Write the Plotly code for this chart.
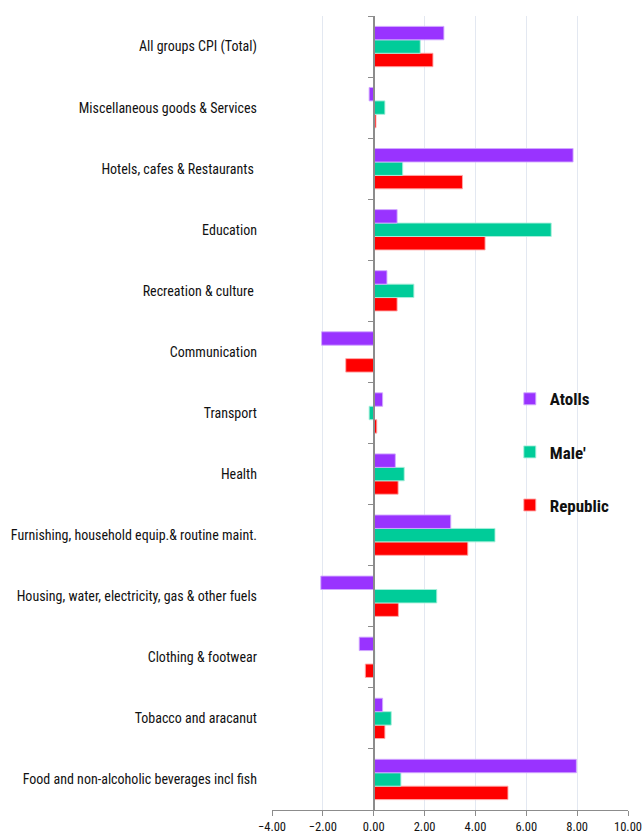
import plotly.graph_objects as go

categories = [
    "Food and non-alcoholic beverages incl fish",
    "Tobacco and aracanut",
    "Clothing & footwear",
    "Housing, water, electricity, gas & other fuels",
    "Furnishing, household equip.& routine maint.",
    "Health",
    "Transport",
    "Communication",
    "Recreation & culture\u00a0",
    "Education",
    "Hotels, cafes & Restaurants\u00a0",
    "Miscellaneous goods & Services",
    "All groups CPI (Total)",
]

atolls = [7.97, 0.35, -0.57, -2.08, 3.03, 0.85, 0.35, -2.05, 0.52, 0.92, 7.84, -0.18, 2.76]
male = [1.07, 0.69, 0.04, 2.48, 4.77, 1.20, -0.18, 0.0, 1.58, 6.98, 1.14, 0.44, 1.83]
republic = [5.28, 0.44, -0.33, 0.97, 3.70, 0.96, 0.12, -1.10, 0.92, 4.38, 3.49, 0.09, 2.33]

x_ticks = [-4, -2, 0, 2, 4, 6, 8, 10]

FONT = "Liberation Sans Narrow, Arial Narrow, Roboto Condensed, Liberation Sans, sans-serif"

fig = go.Figure()
series = [
    ("Republic", republic, "#FF0000", "rgba(255,170,170,0.9)", 3),
    ("Male'", male, "#00CC99", "rgba(170,240,220,0.9)", 2),
    ("Atolls", atolls, "#9933FF", "rgba(210,170,255,0.9)", 1),
]
for name, vals, col, edge, rank in series:
    fig.add_trace(go.Bar(
        y=categories, x=vals, name=name, orientation="h",
        marker=dict(color=col, line=dict(color=edge, width=1)),
        legendrank=rank, legendgroup=name,
    ))

# invisible helper trace for the zero-positioned category axis with boundary ticks
fig.add_trace(go.Bar(y=categories, x=[None] * len(categories), yaxis="y2",
                     showlegend=False, hoverinfo="skip", marker=dict(color="rgba(0,0,0,0)")))

ncat = len(categories)
fig.update_layout(
    width=642, height=838,
    margin=dict(l=272, r=14, t=16, b=28, autoexpand=False),
    paper_bgcolor="white", plot_bgcolor="white",
    barmode="group", bargap=0.34, bargroupgap=0,
    font=dict(family=FONT, color="#111111", size=14),
    legend=dict(
        x=0.668, y=0.540, xanchor="left", yanchor="top",
        font=dict(family=FONT, size=17, color="#111111", weight="bold"),
        tracegroupgap=28, itemwidth=30, bgcolor="rgba(0,0,0,0)",
    ),
    xaxis=dict(
        range=[-4, 10], tickvals=x_ticks, tickformat=".2f",
        showgrid=True, gridcolor="#E3E8F1", gridwidth=1,
        zeroline=False, automargin=False,
        showline=True, linecolor="#8C8C8C", linewidth=1,
        ticks="outside", ticklen=5, tickcolor="#8C8C8C",
        tickfont=dict(family=FONT, size=12.5, color="#111111"),
        mirror=False,
    ),
    yaxis=dict(
        type="category", categoryorder="array", categoryarray=categories,
        range=[-0.5, ncat - 0.5], autorange=False,
        showline=False, ticks="", showgrid=False, zeroline=False,
        ticklabelstandoff=14, automargin=False,
        tickfont=dict(family=FONT, size=14, color="#111111"),
    ),
    yaxis2=dict(
        type="category", categoryorder="array", categoryarray=categories,
        matches="y", overlaying="y", anchor="free", position=4 / 14, side="left",
        showticklabels=False, showgrid=False, zeroline=False, automargin=False,
        showline=True, linecolor="#8C8C8C", linewidth=1.5,
        ticks="outside", ticklen=5, tickcolor="#8C8C8C", tickson="boundaries",
    ),
)

fig.write_html(
    "out.html",
    config={"displayModeBar": False},
    post_script="document.body.style.margin='0';document.body.style.overflow='hidden';",
)
